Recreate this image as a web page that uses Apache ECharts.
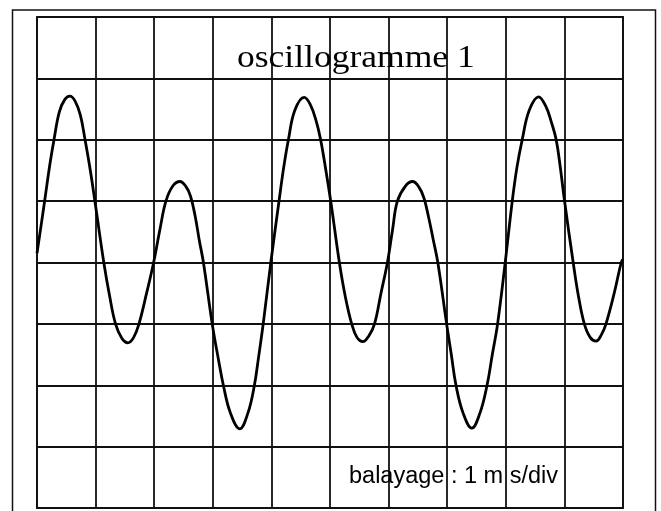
<!DOCTYPE html>
<html>
<head>
<meta charset="utf-8">
<title>oscillogramme 1</title>
<script src="https://cdn.jsdelivr.net/npm/echarts@6/dist/echarts.min.js"></script>
<style>
  html, body { margin: 0; padding: 0; background: #fff; }
  #chart { width: 661px; height: 511px; }
</style>
</head>
<body>
<div id="chart"></div>
<script>
// readings taken off the screen : time in ms (1 div = 1 ms), voltage in divisions
var tMs = [
  0.00, 0.10, 0.13, 0.22, 0.29, 0.38, 0.47, 0.56, 0.65, 0.74, 0.82, 0.91,
  1.00, 1.14, 1.24, 1.34, 1.45, 1.55, 1.65, 1.74, 1.87, 1.99,
  2.10, 2.20, 2.32, 2.44, 2.54, 2.62, 2.70, 2.77, 2.84, 2.99,
  3.10, 3.18, 3.30, 3.46, 3.60, 3.71, 3.78, 3.86, 3.99,
  4.13, 4.21, 4.29, 4.40, 4.56, 4.66, 4.76, 4.84, 4.93,
  5.02, 5.16, 5.26, 5.37, 5.46, 5.56, 5.66, 5.76, 5.87, 5.98,
  6.07, 6.15, 6.29, 6.41, 6.51, 6.60, 6.68, 6.76, 6.84, 6.99,
  7.07, 7.15, 7.27, 7.42, 7.56, 7.68, 7.77, 7.86, 7.99,
  8.11, 8.19, 8.28, 8.40, 8.56, 8.68, 8.78, 8.86, 8.93,
  9.00, 9.15, 9.24, 9.34, 9.44, 9.54, 9.63, 9.71, 9.85, 9.97, 10.00
]
var uDiv = [
  0.15, 0.80, 1.00, 1.60, 2.00, 2.45, 2.65, 2.71, 2.63, 2.40, 2.00, 1.50,
  0.92, 0.00, -0.55, -1.00, -1.24, -1.31, -1.22, -1.00, -0.50, 0.00,
  0.55, 1.00, 1.25, 1.32, 1.24, 1.08, 0.75, 0.36, 0.00, -1.00,
  -1.60, -2.00, -2.45, -2.71, -2.45, -2.00, -1.55, -1.00, 0.00,
  1.00, 1.55, 2.00, 2.48, 2.69, 2.58, 2.32, 2.00, 1.50,
  0.95, 0.00, -0.55, -1.00, -1.22, -1.29, -1.20, -1.00, -0.50, 0.00,
  0.55, 1.00, 1.25, 1.32, 1.24, 1.06, 0.75, 0.38, 0.00, -1.00,
  -1.50, -2.00, -2.45, -2.70, -2.45, -2.00, -1.50, -1.00, 0.00,
  1.00, 1.55, 2.00, 2.48, 2.70, 2.55, 2.28, 2.00, 1.55,
  1.02, 0.00, -0.55, -1.00, -1.22, -1.28, -1.18, -1.00, -0.50, 0.00, 0.05
]
var xRange = [0, 10]   // 10 horizontal divisions
var yRange = [-4, 4]   // 8 vertical divisions
var titleText = 'oscillogramme 1'
var sweepText = 'balayage : 1 m s/div'

var chart = echarts.init(document.getElementById('chart'), null, { renderer: 'canvas' })

var points = tMs.map(function (t, i) { return [t, uDiv[i]] })
var gridColor = '#111'

chart.setOption({
  backgroundColor: '#fff',
  animation: false,
  grid: {
    left: 37,
    top: 17,
    right: 38,
    bottom: 3,
    show: true,
    borderColor: gridColor,
    borderWidth: 1.8
  },
  xAxis: {
    type: 'value',
    min: xRange[0],
    max: xRange[1],
    interval: 1,
    axisLine: { show: false },
    axisTick: { show: false },
    axisLabel: { show: false },
    splitLine: { show: true, lineStyle: { color: gridColor, width: 1.8 } }
  },
  yAxis: {
    type: 'value',
    min: yRange[0],
    max: yRange[1],
    interval: 1,
    axisLine: { show: false },
    axisTick: { show: false },
    axisLabel: { show: false },
    splitLine: { show: true, lineStyle: { color: gridColor, width: 1.8 } }
  },
  graphic: [
    {
      // cadre de l'ecran
      type: 'rect',
      silent: true,
      shape: { x: 12.5, y: 10, width: 643, height: 520 },
      style: { fill: 'none', stroke: '#111', lineWidth: 1.5 }
    },
    {
      type: 'text',
      silent: true,
      x: 237,
      y: 75,
      scaleX: 1.11,
      style: {
        text: titleText,
        font: '32px "Liberation Serif", "Times New Roman", serif',
        fill: '#000',
        textVerticalAlign: 'bottom'
      },
      z: 10
    },
    {
      type: 'text',
      silent: true,
      x: 349,
      y: 489,
      style: {
        text: sweepText,
        font: '23.5px "Liberation Sans", Arial, sans-serif',
        fill: '#000',
        textVerticalAlign: 'bottom'
      },
      z: 10
    }
  ],
  series: [{
    type: 'line',
    data: points,
    smooth: 0.4,
    showSymbol: false,
    lineStyle: { color: '#000', width: 2.8 },
    z: 5
  }]
})
</script>
</body>
</html>
